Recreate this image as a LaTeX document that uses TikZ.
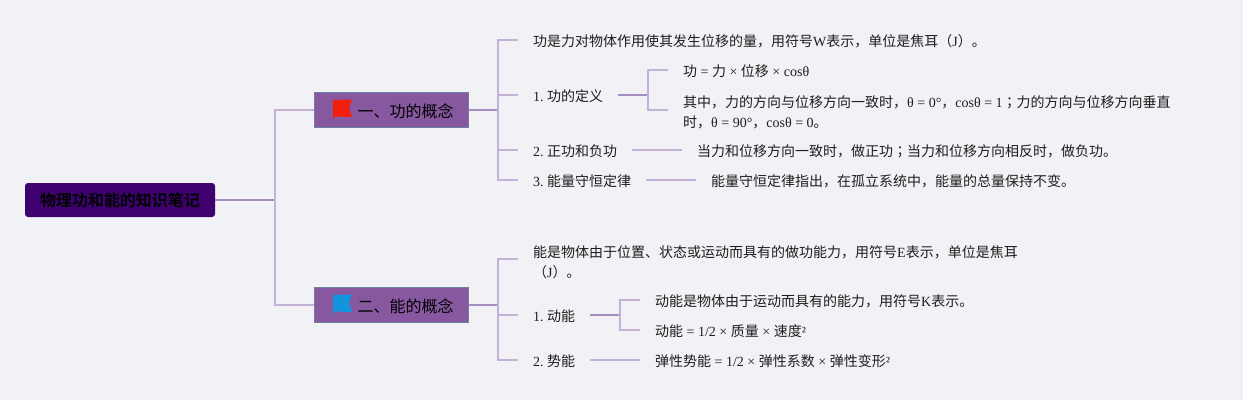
\documentclass[tikz,border=0pt]{standalone}
\usepackage{fontspec}
\setmainfont{Liberation Serif}
\newfontfamily\cjk[BoldFont={Noto Sans CJK SC Bold}]{Noto Sans CJK SC}
\newfontfamily\cjktc{Noto Sans CJK TC}
\newcommand{\zh}[1]{{\cjk #1}}
\newcommand{\zhsemi}{{\cjktc ；}}
\definecolor{bgc}{HTML}{F2F1F5}
\definecolor{rootc}{HTML}{3F0070}
\definecolor{mainc}{HTML}{8757A0}
\definecolor{edgec}{HTML}{6F7F9F}
\definecolor{thinc}{HTML}{C2B2D6}
\definecolor{thickc}{HTML}{A68EC2}
\definecolor{inkc}{HTML}{1E1E1E}
\definecolor{flagr}{HTML}{F0200C}
\definecolor{flagb}{HTML}{1295DC}
\frenchspacing
\tikzset{
  x=1pt,y=-1pt,
  every node/.style={font=\fontsize{14}{20}\selectfont,text=inkc},
  rootbox/.style={draw=none,fill=rootc,rounded corners=3pt,minimum width=190pt,minimum height=34pt,inner sep=0pt,text=black,font=\fontsize{16}{20}\selectfont\bfseries},
  mainbox/.style={draw=edgec,line width=.8pt,fill=mainc,minimum width=152pt,minimum height=34.5pt,inner sep=0pt,text=black,font=\fontsize{16}{20}\selectfont,text height=15pt,text depth=0pt},
  leaf/.style={anchor=west,inner xsep=15pt,inner ysep=0pt,text height=13.5pt,text depth=0pt},
  para/.style={anchor=west,inner xsep=15pt,inner ysep=0pt,align=left},
  thinline/.style={draw=thinc,line width=1.2pt},
  thickline/.style={draw=thickc,line width=1.8pt}
}
\begin{document}
\begin{tikzpicture}
\useasboundingbox (0,0) rectangle (1243,400);
\fill[bgc] (0,0) rectangle (1243,400);
% hubs
\coordinate (hubR) at (275,200);
\coordinate (hubA) at (498,110);
\coordinate (hubB) at (498,305);
\coordinate (hubA1) at (648,95);
\coordinate (hubB1) at (620,315);
% main boxes
\node[rootbox] (root) at (120,200) {\zh{物理功和能的知识笔记}};
\node[mainbox] (one) at (391.5,110) {\hspace*{43pt}\zh{一、功的概念}\hspace*{15pt}};
\node[mainbox] (two) at (391.5,305) {\hspace*{43pt}\zh{二、能的概念}\hspace*{15pt}};
% flags
\fill[flagr] (333,100) -- (352,99.5) -- (349,108) -- (352,117) -- (334,116.5) -- (334,119) -- (333,119) -- cycle;
\fill[flagb] (333,295) -- (352,294.5) -- (349,303) -- (352,312) -- (334,311.5) -- (334,314) -- (333,314) -- cycle;
% first branch
\node[leaf] (a0) at (518,40) {\zh{功是力对物体作用使其发生位移的量，用符号}W\zh{表示，单位是焦耳（}J\zh{）。}};
\node[leaf] (a1) at (518,95) {1. \zh{功的定义}};
\node[leaf] (a2) at (518,150) {2. \zh{正功和负功}};
\node[leaf] (a3) at (518,180) {3. \zh{能量守恒定律}};
\node[leaf] (a1x) at (668,70) {\zh{功} = \zh{力} × \zh{位移} × cosθ};
\node[para] (a1y) at (668,110) {\rule{0pt}{16pt}\zh{其中，力的方向与位移方向一致时，}θ = 0°\zh{，}cosθ = 1\zhsemi\zh{力的方向与位移方向垂直}\\\zh{时，}θ = 90°\zh{，}cosθ = 0\zh{。}};
\node[leaf] (a2x) at (682,150) {\zh{当力和位移方向一致时，做正功}\zhsemi\zh{当力和位移方向相反时，做负功。}};
\node[leaf] (a3x) at (696,180) {\zh{能量守恒定律指出，在孤立系统中，能量的总量保持不变。}};
% second branch
\node[para] (b0) at (518,259) {\rule{0pt}{18pt}\zh{能是物体由于位置、状态或运动而具有的做功能力，用符号}E\zh{表示，单位是焦耳}\\\zh{（}J\zh{）。}};
\node[leaf] (b1) at (518,315) {1. \zh{动能}};
\node[leaf] (b2) at (518,360) {2. \zh{势能}};
\node[leaf] (b1x) at (640,300) {\zh{动能是物体由于运动而具有的能力，用符号}K\zh{表示。}};
\node[leaf] (b1y) at (640,330) {\zh{动能} = 1/2 × \zh{质量} × \zh{速度}²};
\node[leaf] (b2x) at (640,360) {\zh{弹性势能} = 1/2 × \zh{弹性系数} × \zh{弹性变形}²};
% connectors
\draw[thickline] (root.east) -- (hubR);
\draw[thinline] (hubR) |- (one.west);
\draw[thinline] (hubR) |- (two.west);
\draw[thickline] (one.east) -- (hubA);
\draw[thickline] (two.east) -- (hubB);
\draw[thinline] (hubA) |- (a0.west);
\draw[thinline] (hubA) |- (a1.west);
\draw[thinline] (hubA) |- (a2.west);
\draw[thinline] (hubA) |- (a3.west);
\draw[thickline] (a1.east) -- (hubA1);
\draw[thinline] (hubA1) |- (a1x.west);
\draw[thinline] (hubA1) |- (a1y.west);
\draw[thinline] (a2.east) -- (a2x.west);
\draw[thinline] (a3.east) -- (a3x.west);
\draw[thinline] (hubB) |- (b0.west);
\draw[thinline] (hubB) |- (b1.west);
\draw[thinline] (hubB) |- (b2.west);
\draw[thickline] (b1.east) -- (hubB1);
\draw[thinline] (hubB1) |- (b1x.west);
\draw[thinline] (hubB1) |- (b1y.west);
\draw[thinline] (b2.east) -- (b2x.west);
\end{tikzpicture}
\end{document}
